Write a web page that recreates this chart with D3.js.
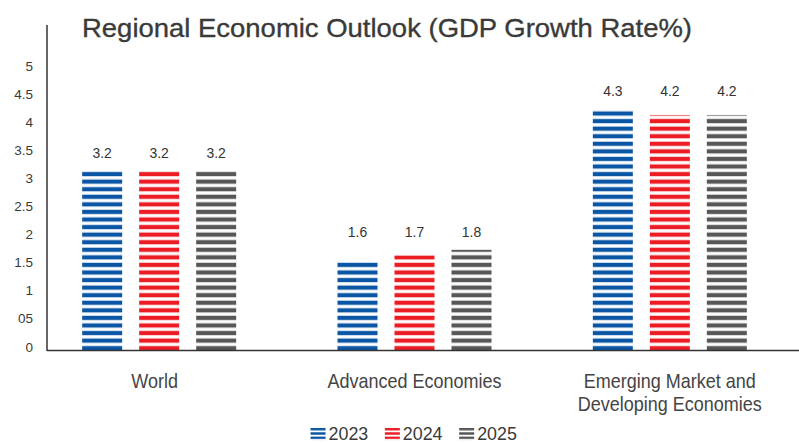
<!DOCTYPE html>
<html>
<head>
<meta charset="utf-8">
<script src="https://cdn.jsdelivr.net/npm/d3@7"></script>
<style>
  html, body { margin: 0; padding: 0; background: #fff; }
  svg { display: block; }
  text { font-family: "Liberation Sans", Arial, Helvetica, sans-serif; }
</style>
</head>
<body>
<svg id="chart" width="799" height="443"></svg>
<script>
// Regional GDP growth, % per year
const regions = ["World", "Advanced Economies", "Emerging Market and Developing Economies"];
const regionLines = [["World"], ["Advanced Economies"], ["Emerging Market and", "Developing Economies"]];
const years = ["2023", "2024", "2025"];
const growth2023 = [3.2, 1.6, 4.3];
const growth2024 = [3.2, 1.7, 4.2];
const growth2025 = [3.2, 1.8, 4.2];
const tickValues = [0, 0.5, 1, 1.5, 2, 2.5, 3, 3.5, 4, 4.5, 5];
const tickLabels = ["0", "05", "1", "1.5", "2", "2.5", "3", "3.5", "4", "4.5", "5"];

const seriesValues = [growth2023, growth2024, growth2025];
const colors = ["#0a56a5", "#ec1c24", "#575757"];
const paleColors = ["#9fbbdc", "#f5a3a6", "#b5b5b5"];

const svg = d3.select("#chart");

const plotLeft = 47, plotRight = 799;
const x = d3.scaleBand().domain(regions).range([31.5, 797.5]);
const xInner = d3.scaleBand().domain(years)
  .range([-85.5, 85.5]).paddingInner(17 / 57).paddingOuter(17 / 114);
const y = d3.scaleLinear().domain([0, 5.8]).range([351, 351 - 5.8 * 56.2]);

// striped fills: colored band, white gap with a faint tint line
const defs = svg.append("defs");
const period = 7.57;
years.forEach((yr, i) => {
  const p = defs.append("pattern")
    .attr("id", "stripe" + yr)
    .attr("patternUnits", "userSpaceOnUse")
    .attr("x", 0).attr("y", y(0) - 4.7)
    .attr("width", 10).attr("height", period);
  p.append("rect").attr("width", 10).attr("height", period).attr("fill", "#fff");
  p.append("rect").attr("width", 10).attr("height", 4).attr("fill", colors[i]);
  p.append("rect").attr("y", period - 1).attr("width", 10).attr("height", 1).attr("fill", paleColors[i]).attr("opacity", 0.6);

  const lp = defs.append("pattern")
    .attr("id", "legend" + yr)
    .attr("patternUnits", "userSpaceOnUse")
    .attr("x", 0).attr("y", 428)
    .attr("width", 10).attr("height", 4.3);
  lp.append("rect").attr("width", 10).attr("height", 4.3).attr("fill", "#fff");
  lp.append("rect").attr("width", 10).attr("height", 2.4).attr("fill", colors[i]);
});

// title
svg.append("text")
  .attr("x", 82).attr("y", 37)
  .attr("font-size", 26.5)
  .attr("fill", "#3a3a3a")
  .attr("stroke", "#3a3a3a").attr("stroke-width", 0.35)
  .attr("textLength", 610).attr("lengthAdjust", "spacingAndGlyphs")
  .text("Regional Economic Outlook (GDP Growth Rate%)");

// y tick labels (no tick marks)
const yAxis = d3.axisLeft(y)
  .tickValues(tickValues)
  .tickFormat((d, i) => tickLabels[i])
  .tickSize(0).tickPadding(0);
const gy = svg.append("g").attr("transform", "translate(33,0)").call(yAxis);
gy.select(".domain").remove();
gy.selectAll("text")
  .attr("dy", 0)
  .attr("font-size", 13.5)
  .attr("font-family", "'Liberation Sans', Arial, sans-serif")
  .attr("fill", "#3a3a3a");

// bars
const groups = svg.append("g").selectAll("g")
  .data(regions)
  .join("g")
  .attr("transform", d => `translate(${x(d) + x.bandwidth() / 2},0)`);

groups.each(function (region, ri) {
  const g = d3.select(this);
  const vals = years.map((yr, si) => ({ yr, v: seriesValues[si][ri] }));
  g.selectAll("rect")
    .data(vals)
    .join("rect")
    .attr("x", d => xInner(d.yr))
    .attr("width", xInner.bandwidth())
    .attr("y", d => y(d.v))
    .attr("height", d => y(0) - y(d.v))
    .attr("fill", d => `url(#stripe${d.yr})`);

  const top = d3.max(vals, d => d.v);
  g.selectAll("text.val")
    .data(vals)
    .join("text")
    .attr("class", "val")
    .attr("transform", d => `translate(${xInner(d.yr) + xInner.bandwidth() / 2},${y(top) - 13}) scale(0.93,1)`)
    .attr("text-anchor", "middle")
    .attr("font-size", 15)
    .attr("fill", "#333")
    .text(d => d3.format(".1f")(d.v));

  // category label, set slightly condensed
  regionLines[ri].forEach((line, li) => {
    g.append("text")
      .attr("transform", `translate(${ri === 0 ? -4.5 : 0},${388 + li * 23}) scale(0.9,1)`)
      .attr("text-anchor", "middle")
      .attr("font-size", 20)
      .attr("fill", "#444")
      .text(line);
  });
});

// axis lines
svg.append("line")
  .attr("x1", plotLeft).attr("x2", plotLeft)
  .attr("y1", y.range()[1]).attr("y2", y(0))
  .attr("stroke", "#333").attr("stroke-width", 1.5);
svg.append("line")
  .attr("x1", plotLeft).attr("x2", plotRight)
  .attr("y1", y(0) - 0.5).attr("y2", y(0) - 0.5)
  .attr("stroke", "#333").attr("stroke-width", 1.5);

// legend
const legendStep = 74.3;
const legend = svg.append("g")
  .attr("transform", `translate(${417 - legendStep * 1.5 + 6},0)`);
const items = legend.selectAll("g")
  .data(years)
  .join("g")
  .attr("transform", (d, i) => `translate(${i * legendStep},0)`);
items.append("rect")
  .attr("x", -1).attr("y", 427)
  .attr("width", 15).attr("height", 14)
  .attr("fill", d => `url(#legend${d})`);
items.append("text")
  .attr("transform", "translate(17,440) scale(0.94,1)")
  .attr("font-size", 19)
  .attr("fill", "#3a3a3a")
  .text(d => d);
</script>
</body>
</html>
